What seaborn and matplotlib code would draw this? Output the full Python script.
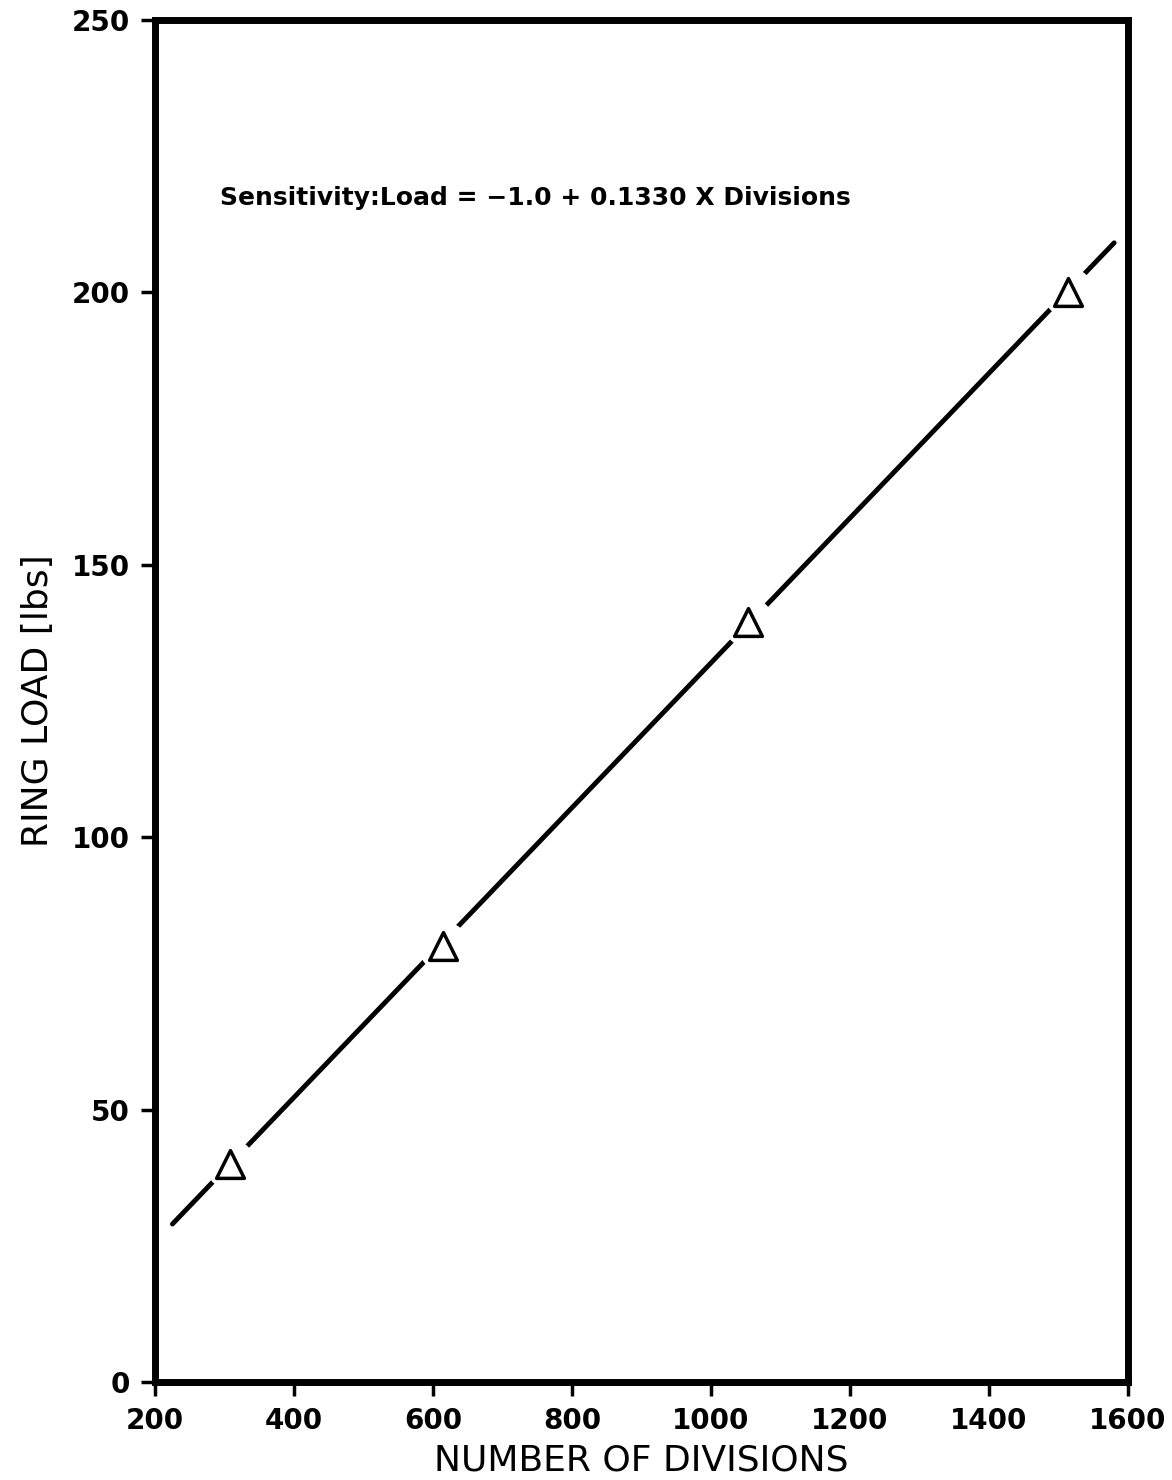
import pandas as pd
import seaborn as sns
import matplotlib.pyplot as plt

# Calibration points
divisions = [308, 614, 1053, 1514]
ring_load = [40, 80, 139.5, 200]

# Fitted line ends (Load = -1.0 + 0.1330 x Divisions)
fit_divisions = [225, 1580]
fit_load = [29.0, 209.1]

x_ticks = [200, 400, 600, 800, 1000, 1200, 1400, 1600]
y_ticks = [0, 50, 100, 150, 200, 250]

sns.set_style("ticks")
plt.rcParams['font.family'] = ['DejaVu Sans']
plt.rcParams['text.color'] = 'black'
plt.rcParams['axes.labelcolor'] = 'black'
plt.rcParams['xtick.color'] = 'black'
plt.rcParams['ytick.color'] = 'black'

pts = pd.DataFrame({'Divisions': divisions, 'Load': ring_load})
fit = pd.DataFrame({'Divisions': fit_divisions, 'Load': fit_load})

fig = plt.figure(figsize=(11.72, 14.8), dpi=100)
ax = fig.add_axes([0.1323, 0.0662, 0.8302, 0.9203])

sns.lineplot(data=fit, x='Divisions', y='Load', ax=ax, color='black',
             linewidth=3.5, solid_capstyle='round', zorder=2)
# white halo under markers so the line breaks around each triangle
sns.scatterplot(data=pts, x='Divisions', y='Load', ax=ax, marker='o', s=1300,
                color='white', edgecolor='white', linewidth=0, zorder=3)
sns.scatterplot(data=pts, x='Divisions', y='Load', ax=ax, marker='^', s=400,
                facecolor='white', edgecolor='black', linewidth=2.5, zorder=4)

ax.set_xlim(200, 1600)
ax.set_ylim(0, 250)
ax.set_xticks(x_ticks)
ax.set_yticks(y_ticks)
ax.tick_params(axis='both', direction='out', length=10, width=2.5,
               labelsize=20, pad=8, color='black', labelcolor='black')
for lab in ax.get_xticklabels() + ax.get_yticklabels():
    lab.set_fontweight('bold')
for sp in ax.spines.values():
    sp.set_linewidth(5)
    sp.set_color('black')

ax.set_xlabel('NUMBER OF DIVISIONS', fontsize=26, labelpad=6)
ax.set_ylabel('RING LOAD [lbs]', fontsize=26, labelpad=12)

ax.text(293, 217.3, 'Sensitivity:Load = \u22121.0 + 0.1330 X Divisions',
        fontsize=18, fontweight='bold', va='center', ha='left')

fig.savefig('out.png', dpi=100)
